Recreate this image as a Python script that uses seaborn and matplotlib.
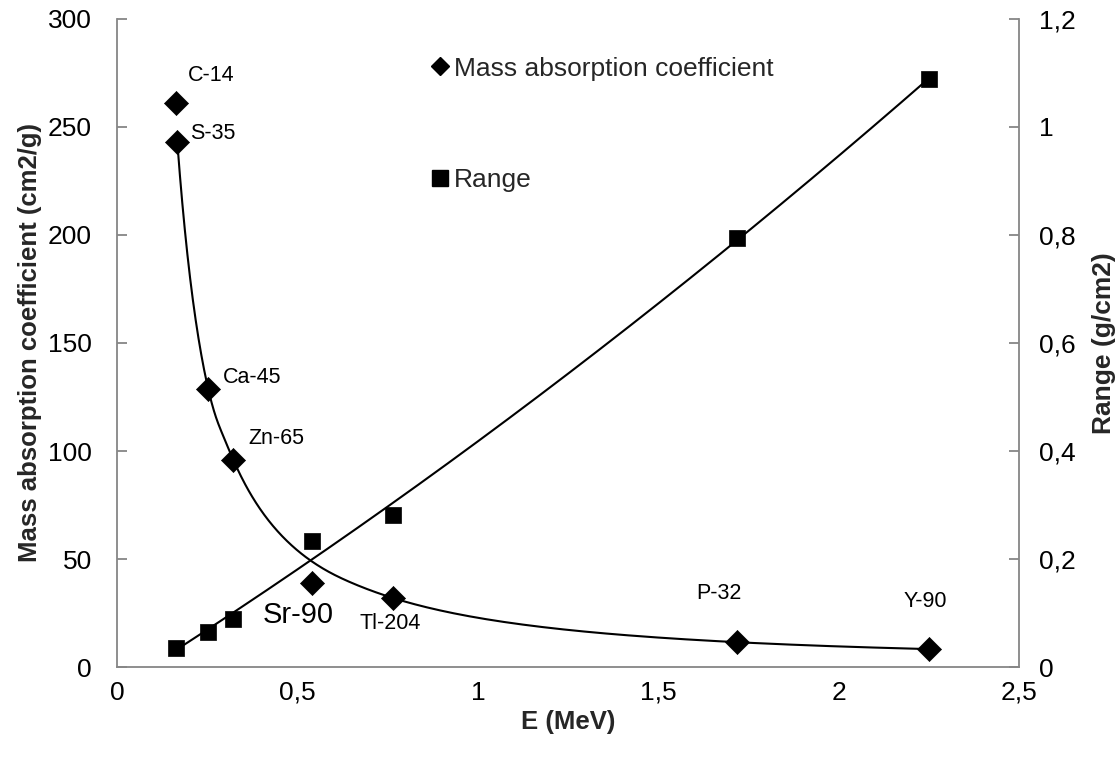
import numpy as np
import pandas as pd
import matplotlib
matplotlib.use("Agg")
import matplotlib.pyplot as plt
from matplotlib.ticker import FuncFormatter, MultipleLocator
from matplotlib.lines import Line2D
import seaborn as sns

# ---- data ----
isotopes = ["C-14", "S-35", "Ca-45", "Zn-65", "Sr-90", "Tl-204", "P-32", "Y-90"]
energy = [0.163, 0.167, 0.253, 0.322, 0.539, 0.764, 1.719, 2.25]
mass_abs = [261, 243, 128.5, 96, 39, 32, 11.5, 8.3]
# smoothed curve series
curve_energy = [0.167, 0.253, 0.322, 0.539, 0.764, 1.719, 2.25]
curve_vals = [243, 128.5, 96, 49, 32, 11.5, 8.3]
range_energy = [0.164, 0.253, 0.322, 0.539, 0.764, 1.719, 2.25]
range_vals = [0.035, 0.065, 0.089, 0.233, 0.281, 0.794, 1.089]
label_x = [0.197, 0.203, 0.292, 0.364, 0.403, 0.672, 1.606, 2.18]
label_y = [274, 247, 134, 106, 24, 20, 34, 30.5]
label_size = [15.5, 15.5, 15.5, 15.5, 21, 15.5, 15.5, 15.5]

sns.set_style("white")
plt.rcParams["font.family"] = ["Liberation Sans", "DejaVu Sans"]

GRAY = "#868686"


def catmull_rom(px, py, n=60):
    px = np.asarray(px, float)
    py = np.asarray(py, float)
    P = np.column_stack([px, py])
    P = np.vstack([2 * P[0] - P[1], P, 2 * P[-1] - P[-2]])
    out = []
    t = np.linspace(0, 1, n)[:, None]
    for i in range(1, len(P) - 2):
        p0, p1, p2, p3 = P[i - 1], P[i], P[i + 1], P[i + 2]
        seg = 0.5 * ((2 * p1) + (-p0 + p2) * t + (2 * p0 - 5 * p1 + 4 * p2 - p3) * t ** 2
                     + (-p0 + 3 * p1 - 3 * p2 + p3) * t ** 3)
        out.append(seg)
    out = np.vstack(out)
    return out[:, 0], out[:, 1]


fig = plt.figure(figsize=(11.2, 7.58), dpi=100)
ax = fig.add_axes([0.1045, 0.12, 0.8054, 0.855])
ax2 = ax.twinx()

# smoothed curve for mass absorption (in log-log space)
lx, ly = catmull_rom(np.log(curve_energy), np.log(curve_vals))
curve_df = pd.DataFrame({"E": np.exp(lx), "mu": np.exp(ly)})
sns.lineplot(data=curve_df, x="E", y="mu", ax=ax, color="black", lw=1.5,
             legend=False, sort=False, estimator=None)

# range trendline (2nd-order polynomial fit)
re = np.array(range_energy)
rv = np.array(range_vals)
coef = np.polyfit(re, rv, 2)
xr = np.linspace(re.min(), re.max(), 300)
rdf = pd.DataFrame({"E": xr, "R": np.polyval(coef, xr)})
sns.lineplot(data=rdf, x="E", y="R", ax=ax2, color="black", lw=1.5, legend=False)

# markers
mdf = pd.DataFrame({"E": energy, "mu": mass_abs})
sns.scatterplot(data=mdf, x="E", y="mu", ax=ax, marker="D", s=150, color="black",
                edgecolor="black", linewidth=0.5, zorder=5, legend=False)
rdf2 = pd.DataFrame({"E": range_energy, "R": range_vals})
sns.scatterplot(data=rdf2, x="E", y="R", ax=ax2, marker="s", s=125, color="black",
                edgecolor="black", linewidth=0.5, zorder=5, legend=False)

for name, tx, ty, fs in zip(isotopes, label_x, label_y, label_size):
    ax.text(tx, ty, name, fontsize=fs, ha="left", va="center", color="black")

# axes
ax.set_xlim(0, 2.5)
ax.set_ylim(0, 300)
ax2.set_ylim(0, 1.2)
ax.xaxis.set_major_locator(MultipleLocator(0.5))
ax.yaxis.set_major_locator(MultipleLocator(50))
ax2.yaxis.set_major_locator(MultipleLocator(0.2))


def comma(v, pos):
    s = ("%.2f" % v).rstrip("0").rstrip(".")
    return s.replace(".", ",")


ax.xaxis.set_major_formatter(FuncFormatter(comma))
ax.yaxis.set_major_formatter(FuncFormatter(comma))
ax2.yaxis.set_major_formatter(FuncFormatter(comma))

for a in (ax, ax2):
    for side in ("left", "right", "bottom"):
        a.spines[side].set_color(GRAY)
        a.spines[side].set_linewidth(1.3)
    a.spines["top"].set_visible(False)
    a.tick_params(direction="in", length=7, width=1.3, color=GRAY,
                  labelsize=19, labelcolor="black")
ax.spines["right"].set_visible(False)
ax2.spines["left"].set_visible(False)
ax2.spines["bottom"].set_visible(False)
ax.tick_params(axis="x", pad=10)
ax.tick_params(axis="y", pad=18)
ax2.tick_params(axis="y", pad=14)

ax.set_xlabel("E (MeV)", fontsize=18.5, fontweight="bold", labelpad=4)
ax.set_ylabel("Mass absorption coefficient (cm2/g)", fontsize=18.5, fontweight="bold", labelpad=4)
ax2.set_ylabel("Range (g/cm2)", fontsize=19, fontweight="bold", labelpad=12)

handles = [
    Line2D([], [], marker="D", color="black", linestyle="none", markersize=9),
    Line2D([], [], marker="s", color="black", linestyle="none", markersize=12),
]
ax.legend(handles, ["Mass absorption coefficient", "Range"], loc="upper left",
          bbox_to_anchor=(0.338, 0.958), frameon=False, fontsize=19,
          handlelength=0.6, handletextpad=0.2, labelspacing=3.3, borderaxespad=0)

fig.savefig("out.png", dpi=100)
